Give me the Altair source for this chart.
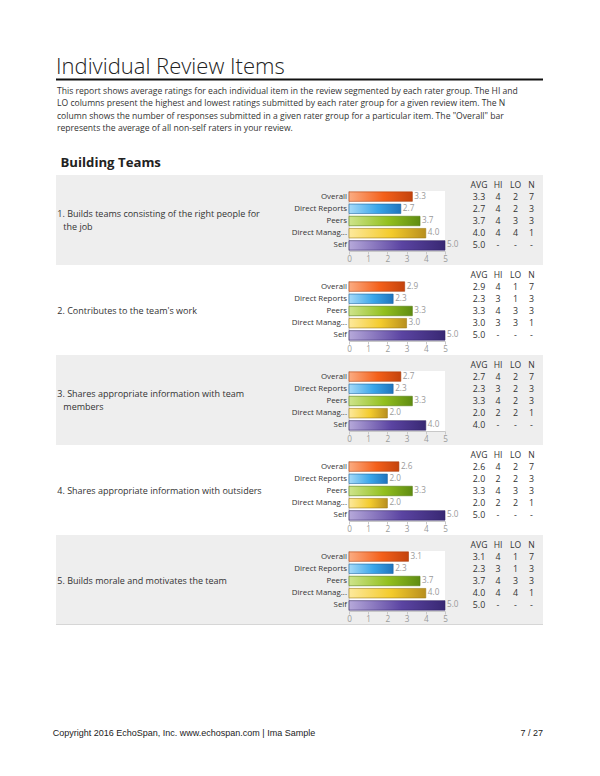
import altair as alt
import pandas as pd

# ---------------- data ----------------
raters = ["Overall", "Direct Reports", "Peers", "Direct Manager", "Self"]
rater_labels = ["Overall", "Direct Reports", "Peers", "Direct Manag...", "Self"]

item_titles = [
    ["1. Builds teams consisting of the right people for", "the job"],
    ["2. Contributes to the team's work"],
    ["3. Shares appropriate information with team", "members"],
    ["4. Shares appropriate information with outsiders"],
    ["5. Builds morale and motivates the team"],
]
avg_values = [
    [3.3, 2.7, 3.7, 4.0, 5.0],
    [2.9, 2.3, 3.3, 3.0, 5.0],
    [2.7, 2.3, 3.3, 2.0, 4.0],
    [2.6, 2.0, 3.3, 2.0, 5.0],
    [3.1, 2.3, 3.7, 4.0, 5.0],
]
hi_values = [
    [4, 4, 4, 4, None],
    [4, 3, 4, 3, None],
    [4, 3, 4, 2, None],
    [4, 2, 4, 2, None],
    [4, 3, 4, 4, None],
]
lo_values = [
    [2, 2, 3, 4, None],
    [1, 1, 3, 3, None],
    [2, 2, 2, 2, None],
    [2, 2, 3, 2, None],
    [1, 1, 3, 4, None],
]
n_values = [
    [7, 3, 3, 1, None],
    [7, 3, 3, 1, None],
    [7, 3, 3, 1, None],
    [7, 3, 3, 1, None],
    [7, 3, 3, 1, None],
]
table_headers = ["AVG", "HI", "LO", "N"]
axis_ticks = [0, 1, 2, 3, 4, 5]

page_title = "Individual Review Items"
intro_lines = [
    "This report shows average ratings for each individual item in the review segmented by each rater group. The HI and",
    "LO columns present the highest and lowest ratings submitted by each rater group for a given review item. The N",
    "column shows the number of responses submitted in a given rater group for a particular item. The \"Overall\" bar",
    "represents the average of all non-self raters in your review.",
]
section_title = "Building Teams"
footer_left = "Copyright 2016 EchoSpan, Inc. www.echospan.com  |  Ima Sample"
footer_right = "7 / 27"

# ---------------- style ----------------
FONT = "Open Sans"
W = 584
ITEM_H = 90
GRAY = "#eeeeee"
block_colors = [GRAY, "#ffffff", GRAY, "#ffffff", GRAY]

bar_styles = {
    "Overall": (["#fbac82", "#f4601a", "#c4430c"], "#a93c0c"),
    "Direct Reports": (["#a6daf8", "#3aa6ea", "#1f74bd"], "#1b64a3"),
    "Peers": (["#cfe48c", "#93c01f", "#5f8c12"], "#557e10"),
    "Direct Manager": (["#fde99c", "#f3cb2c", "#b88f1e"], "#a07c16"),
    "Self": (["#b6a9da", "#5b44a2", "#382873"], "#2f2263"),
}

x_scale = alt.Scale(domain=[0, 5], range=[341, 437], nice=False, zero=False)
y_scale = alt.Scale(domain=raters, range=[15.5, 76.5], paddingInner=0.22, paddingOuter=0.11)
x_axis = alt.Axis(
    values=axis_ticks, format="d", title=None, grid=False, offset=-14, zindex=2,
    domainColor="#c8c8c8", tickColor="#c8c8c8", tickSize=3,
    labelColor="#9a9a9a", labelFontSize=8.2, labelFont=FONT, labelPadding=1.5,
    labelFlush=False,
)
col_x = [471, 490, 507.5, 523.5]

one = pd.DataFrame({"k": [0]})


def fmt(v):
    return "-" if v is None else str(v)


def gradient(stops):
    return {
        "gradient": "linear", "x1": 0, "x2": 1, "y1": 0, "y2": 0,
        "stops": [
            {"offset": 0, "color": stops[0]},
            {"offset": 0.55, "color": stops[1]},
            {"offset": 1, "color": stops[2]},
        ],
    }


def item_chart(i):
    df = pd.DataFrame({
        "rater": raters,
        "label": rater_labels,
        "avg": avg_values[i],
        "avg_s": [f"{v:.1f}" for v in avg_values[i]],
        "hi": [fmt(v) for v in hi_values[i]],
        "lo": [fmt(v) for v in lo_values[i]],
        "n": [fmt(v) for v in n_values[i]],
    })
    layers = []
    layers.append(alt.Chart(one).mark_rect(color=block_colors[i]).encode(
        x=alt.value(48), x2=alt.value(535), y=alt.value(0), y2=alt.value(ITEM_H)))
    if i == len(avg_values) - 1:
        layers.append(alt.Chart(one).mark_rule(color="#d6d6d6").encode(
            x=alt.value(48), x2=alt.value(535), y=alt.value(ITEM_H - 0.5)))
    # white plot area
    layers.append(alt.Chart(one).mark_rect(color="white").encode(
        x=alt.XDatum(0, scale=x_scale, axis=x_axis), x2=alt.X2Datum(5),
        y=alt.value(16), y2=alt.value(76)))
    # y domain line
    layers.append(alt.Chart(one).mark_rule(color="#c8c8c8").encode(
        x=alt.XDatum(0, scale=x_scale, axis=x_axis), y=alt.value(16), y2=alt.value(76)))
    # bars
    for r in raters:
        stops, stroke = bar_styles[r]
        layers.append(
            alt.Chart(df).transform_filter(alt.datum.rater == r)
            .mark_bar(color=gradient(stops), stroke=stroke, strokeWidth=0.6)
            .encode(
                x=alt.X("avg:Q", scale=x_scale, axis=x_axis),
                x2=alt.X2Datum(0),
                y=alt.Y("rater:N", scale=y_scale, axis=None),
            )
        )
    # value labels
    layers.append(alt.Chart(df).mark_text(
        align="left", baseline="middle", dx=2, fontSize=8.2, font=FONT, color="#9a9a9a"
    ).encode(
        x=alt.X("avg:Q", scale=x_scale, axis=x_axis),
        y=alt.Y("rater:N", scale=y_scale, axis=None),
        text="avg_s:N",
    ))
    # row labels
    layers.append(alt.Chart(df).mark_text(
        align="right", baseline="middle", dx=-2, fontSize=7.9, font=FONT, color="#333333"
    ).encode(
        x=alt.XDatum(0, scale=x_scale, axis=x_axis),
        y=alt.Y("rater:N", scale=y_scale, axis=None),
        text="label:N",
    ))
    # table headers + values
    for h, cx, field in zip(table_headers, col_x, ["avg_s", "hi", "lo", "n"]):
        layers.append(alt.Chart(one).mark_text(
            text=h, align="center", baseline="middle", fontSize=8.6, font=FONT, color="#333333"
        ).encode(x=alt.value(cx), y=alt.value(10)))
        layers.append(alt.Chart(df).mark_text(
            align="center", baseline="middle", fontSize=8.8, font=FONT, color="#333333"
        ).encode(
            x=alt.value(cx),
            y=alt.Y("rater:N", scale=y_scale, axis=None),
            text=f"{field}:N",
        ))
    # item label
    lines = item_titles[i]
    if len(lines) == 1:
        pos = [(49.3, 45.5)]
    else:
        pos = [(49.3, 39.3), (55.3, 51.7)]
    for t, (xx, yy) in zip(lines, pos):
        layers.append(alt.Chart(one).mark_text(
            text=t, align="left", baseline="middle", fontSize=9, font=FONT, color="#333333"
        ).encode(x=alt.value(xx), y=alt.value(yy)))
    return alt.layer(*layers).properties(width=W, height=ITEM_H)


# header
header_layers = [
    alt.Chart(one).mark_text(
        text=page_title, align="left", baseline="alphabetic", fontSize=22,
        font=FONT, fontWeight=300, color="#222222"
    ).encode(x=alt.value(48), y=alt.value(66)),
    alt.Chart(one).mark_rule(color="#111111", strokeWidth=2).encode(
        x=alt.value(48), x2=alt.value(535), y=alt.value(71.5)),
]
for k, line in enumerate(intro_lines):
    header_layers.append(alt.Chart(one).mark_text(
        text=line, align="left", baseline="middle", fontSize=8.6, font=FONT, color="#333333"
    ).encode(x=alt.value(49), y=alt.value(82.5 + 12.5 * k)))
header_layers.append(alt.Chart(one).mark_text(
    text=section_title, align="left", baseline="middle", fontSize=13.2, font=FONT,
    fontWeight="bold", color="#222222"
).encode(x=alt.value(52.5), y=alt.value(154.7)))
header = alt.layer(*header_layers).properties(width=W, height=167)

# footer
footer = alt.layer(
    alt.Chart(one).mark_text(
        text=footer_left, align="left", baseline="middle", fontSize=9,
        font="Liberation Sans", color="#222222"
    ).encode(x=alt.value(44.7), y=alt.value(108.3)),
    alt.Chart(one).mark_text(
        text=footer_right, align="right", baseline="middle", fontSize=9,
        font="Liberation Sans", color="#222222"
    ).encode(x=alt.value(535), y=alt.value(108.3)),
).properties(width=W, height=140)

items = [item_chart(i) for i in range(len(avg_values))]

chart = (
    alt.vconcat(header, *items, footer, spacing=0)
    .properties(padding=0)
    .configure_view(stroke=None)
)

chart.save("out.html", embed_options={"renderer": "svg", "actions": False})
